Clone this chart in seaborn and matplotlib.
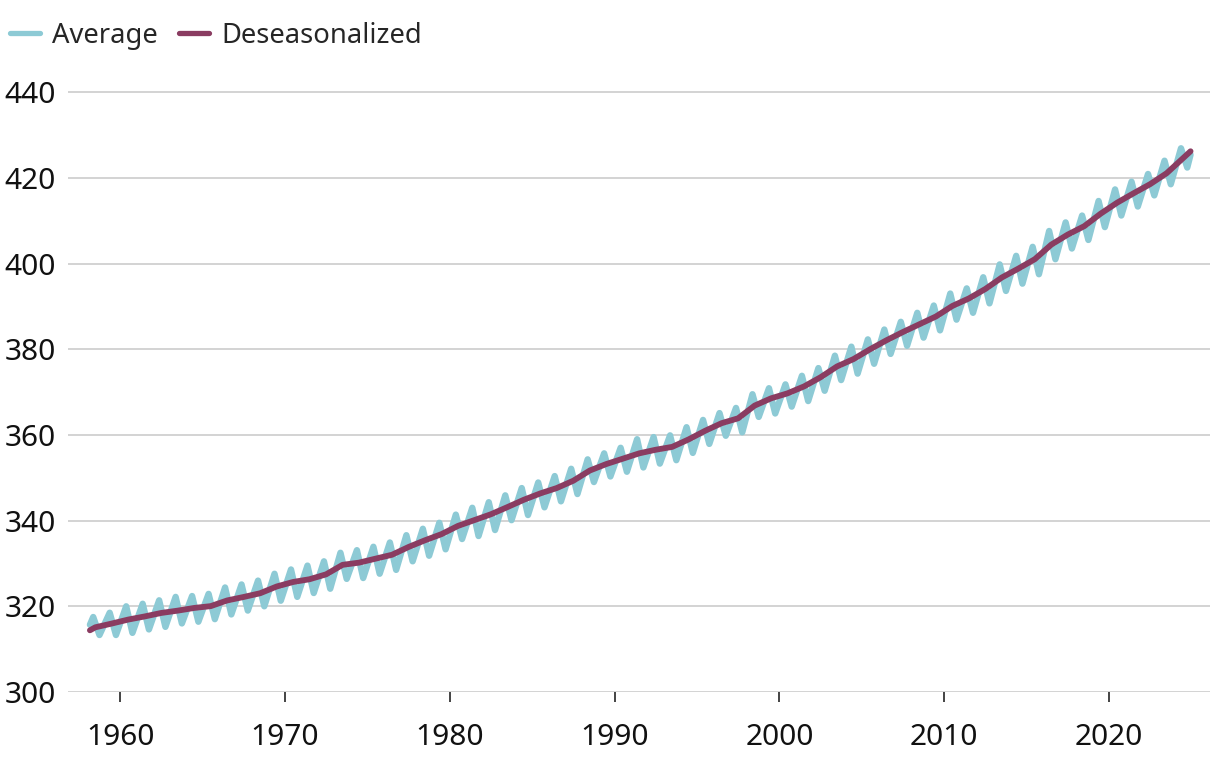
import pandas as pd
import numpy as np
import seaborn as sns
import matplotlib.pyplot as plt

# Valores (CO2 em ppm, Mauna Loa)

anos = list(range(1958, 2025))

# media anual dessazonalizada (no meio de cada ano)
dessaz = [315.1, 315.98, 316.91, 317.64, 318.45, 318.99, 319.62, 320.04, 321.37, 322.18,
          323.05, 324.62, 325.68, 326.32, 327.46, 329.68, 330.19, 331.12, 332.03, 333.84,
          335.41, 336.84, 338.76, 340.12, 341.48, 343.15, 344.87, 346.35, 347.61, 349.31,
          351.69, 353.20, 354.45, 355.70, 356.54, 357.21, 358.96, 360.97, 362.74, 363.88,
          366.84, 368.54, 369.71, 371.32, 373.45, 375.98, 377.70, 379.98, 382.09, 384.02,
          385.83, 387.64, 390.10, 391.85, 394.06, 396.74, 398.81, 401.01, 404.41, 406.76,
          408.72, 411.65, 414.21, 416.41, 418.53, 421.08, 424.61]
dessaz_inicio = 314.4   # mar/1958
dessaz_fim = 426.2      # dez/2024

# media mensal: pico (maio) e vale (set/out) de cada ano
picos = [317.5, 318.5, 320.0, 320.6, 321.4, 322.2, 322.4, 322.9, 324.4, 325.1,
         326.0, 327.6, 328.6, 329.5, 330.5, 332.5, 333.1, 333.9, 334.9, 336.6,
         338.1, 339.5, 341.4, 343.0, 344.3, 345.9, 347.6, 348.9, 350.4, 352.1,
         354.3, 355.7, 357.0, 359.0, 359.5, 359.9, 361.8, 363.5, 365.1, 366.3,
         369.5, 370.9, 371.8, 373.8, 375.6, 378.5, 380.6, 382.3, 384.6, 386.4,
         388.5, 390.2, 393.0, 394.2, 396.8, 399.8, 401.8, 403.9, 407.6, 409.6,
         411.2, 414.6, 417.3, 419.1, 420.9, 424.0, 426.9]
vales = [313.3, 313.3, 313.8, 314.6, 315.2, 316.0, 316.4, 317.0, 318.1, 319.0,
         320.0, 321.3, 322.2, 323.1, 324.1, 326.4, 326.6, 327.6, 328.5, 330.5,
         331.8, 333.3, 335.7, 336.4, 337.8, 340.1, 341.3, 343.1, 344.5, 346.2,
         349.0, 350.3, 351.4, 352.4, 353.3, 354.1, 355.8, 357.9, 359.8, 360.6,
         364.2, 365.0, 366.6, 367.9, 370.3, 372.8, 374.3, 376.6, 378.9, 380.8,
         382.7, 384.4, 386.9, 388.5, 390.7, 393.6, 395.3, 397.5, 401.0, 403.5,
         405.5, 408.5, 411.2, 413.3, 415.9, 418.5, 422.4]
media_inicio = 315.7
media_fim = 425.4

# Montando as tabelas
x_media = [1958.17]
y_media = [media_inicio]
for ano, p, v in zip(anos, picos, vales):
    x_media += [ano + 0.37, ano + 0.75]
    y_media += [p, v]
x_media.append(2024.95)
y_media.append(media_fim)
df_media = pd.DataFrame({'Ano': x_media, 'CO2': y_media})

df_dessaz = pd.DataFrame({
    'Ano': [1958.17] + [a + 0.5 for a in anos] + [2024.95],
    'CO2': [dessaz_inicio] + dessaz + [dessaz_fim]
})

# Estilizando
sns.set_theme(style="white")
plt.rcParams['font.family'] = ['Noto Sans', 'DejaVu Sans']
cores = {'media': "#8dcad5", 'dessaz': "#8a3c61"}

fig = plt.figure(figsize=(12.2, 7.6), dpi=100)
ax = fig.add_axes([68 / 1220, 1 - 692 / 760, (1210 - 68) / 1220, (692 - 90) / 760])

sns.lineplot(x='Ano', y='CO2', data=df_media, ax=ax, color=cores['media'],
             linewidth=4.6, estimator=None, sort=False, label='Average',
             solid_joinstyle='round', solid_capstyle='round')
sns.lineplot(x='Ano', y='CO2', data=df_dessaz, ax=ax, color=cores['dessaz'],
             linewidth=4.2, estimator=None, sort=False, label='Deseasonalized',
             solid_joinstyle='round', solid_capstyle='round')

ax.set_xlim(1956.84, 2026.13)
ax.set_ylim(300, 440.5)
ax.set_yticks(range(300, 441, 20))
ax.set_xticks(range(1960, 2021, 10))
ax.yaxis.grid(True, color='#c8c8c8', linewidth=1.1)
ax.set_axisbelow(True)
for s in ax.spines.values():
    s.set_visible(False)
ax.set_xlabel('')
ax.set_ylabel('')
ax.tick_params(axis='y', length=0, pad=9, labelsize=21.5, labelcolor='#111111')
ax.tick_params(axis='x', length=7.5, width=1.1, color='#111111', pad=15,
               labelsize=21.5, labelcolor='#111111', bottom=True)

leg = ax.legend(loc='lower left', bbox_to_anchor=(10 / 1220, 1 - 50 / 760),
                bbox_transform=fig.transFigure, ncol=2, frameon=False,
                fontsize=19.7, handlelength=1.1, handletextpad=0.45,
                columnspacing=0.75, borderpad=0, borderaxespad=0)
for h in leg.get_lines():
    h.set_linewidth(3.8)
    h.set_solid_capstyle('round')

plt.savefig('out.png', dpi=100)
